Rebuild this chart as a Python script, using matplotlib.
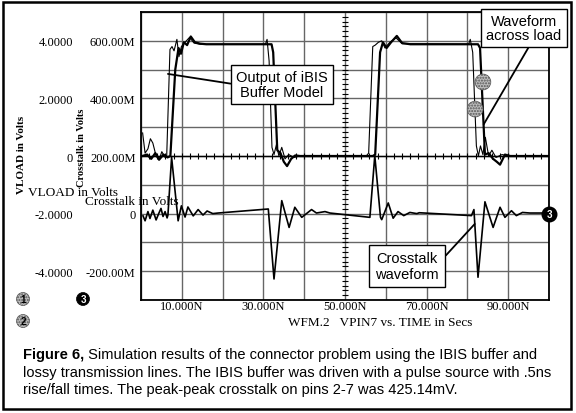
import numpy as np
import matplotlib
matplotlib.use("Agg")
import matplotlib.pyplot as plt
from matplotlib.patches import Rectangle, Circle

# waveforms: time in ns, load/buffer in volts, crosstalk in mV
buf_t = [0.4, 1.0, 1.7, 2.3, 2.9, 3.7, 4.4, 5.1, 5.9, 6.3, 7.1, 7.6, 8.1, 8.8, 9.3, 9.9,
         10.8, 11.9, 13.0, 14.5, 30.5, 30.9, 31.4, 32.1, 32.6, 33.2, 33.8, 34.5, 35.3,
         36.2, 37.5, 39.0, 55.2, 55.8, 56.8, 57.4, 58.2, 59.0, 59.8, 61.0, 62.5, 64.0,
         80.3, 80.7, 81.3, 82.2, 82.7, 83.2, 83.8, 84.4, 85.2, 86.0, 87.0, 88.5, 90.0, 100.0]
buf_v = [0.8, 0.1, 0.25, 0.6, 0.45, 0.0, -0.15, 0.15, -0.05, 0.0, 3.7, 3.8, 3.65, 4.05, 3.45, 3.8,
         3.95, 4.12, 3.92, 3.88, 3.88, 4.05, 3.3, 0.3, 0.05, 0.4, 0.0, 0.3, -0.1,
         0.05, -0.05, 0.0, 0.0, 0.1, 3.8, 3.85, 3.95, 4.0, 3.75, 3.95, 4.1, 3.9,
         3.88, 4.05, 3.6, 0.35, 0.0, 0.35, 0.05, 0.65, 0.0, 0.2, -0.05, 0.05, 0.0, 0.0]

load_t = [0.3, 1.5, 2.5, 3.5, 4.5, 5.5, 6.5, 7.2, 8.4, 9.2, 9.8, 10.5, 11.3, 12.2, 13.2, 14.5,
          16.0, 32.0, 32.4, 33.4, 34.2, 35.0, 35.8, 36.8, 37.8, 39.0, 56.8, 57.4, 58.6, 59.3,
          60.2, 61.3, 62.7, 64.0, 66.0, 82.6, 83.1, 84.3, 85.2, 86.3, 87.2, 88.0, 89.2, 90.5, 100.0]
load_v = [0.0, 0.05, -0.1, 0.1, -0.12, 0.05, -0.05, 0.0, 3.0, 3.75, 3.55, 3.95, 3.85, 4.15, 3.95, 3.9,
          3.88, 3.88, 3.6, 0.2, 0.1, -0.2, -0.35, -0.1, 0.02, 0.0, 0.0, 0.05, 3.6, 3.95,
          3.75, 3.95, 4.17, 3.92, 3.88, 3.88, 3.75, 0.05, 0.1, -0.1, -0.2, -0.3, 0.05, 0.0, 0.0]

xt_t = [0.5, 1.0, 1.7, 2.2, 2.9, 3.7, 4.4, 4.9, 5.4, 5.9, 6.4, 6.6, 7.5, 9.1, 9.9, 10.8, 11.5,
        12.8, 14.0, 15.2, 16.2, 17.6, 18.9, 31.2, 32.6, 34.5, 36.3, 37.7, 39.4, 41.8, 43.0,
        45.1, 46.3, 56.1, 57.3, 58.7, 59.0, 60.6, 61.8, 63.0, 64.4, 65.9, 67.6, 68.2,
        81.0, 81.6, 82.6, 84.3, 86.3, 88.0, 89.2, 90.8, 92.0, 93.5, 95.3, 100.0]
xt_mv = [-8, -25, 7, -17, 12, -22, 2, 18, -10, 7, -15, -5, 195, -25, 27, -12, 23,
         -8, 14, -5, 9, 0, 2, 16, -227, 45, -48, 22, -13, 14, 2,
         7, 2, -13, 201, -13, -21, 37, -16, 7, -7, 4, 0, 3,
         -7, 14, -221, 41, -48, 22, -13, 10, -7, 4, 2, 2]

xtick_pos = [10, 30, 50, 70, 90]
xtick_lab = ["10.000N", "30.000N", "50.000N", "70.000N", "90.000N"]
mv_ticks = [600, 400, 200, 0, -200]
mv_lab = ["600.00M", "400.00M", "200.00M", "0", "-200.00M"]
v_ticks = [4, 2, 0, -2, -4]
v_lab = ["4.0000", "2.0000", "0", "-2.0000", "-4.0000"]

caption = ["Simulation results of the connector problem using the IBIS buffer and",
           "lossy transmission lines. The IBIS buffer was driven with a pulse source with .5ns",
           "rise/fall times. The peak-peak crosstalk on pins 2-7 was 425.14mV."]

W, H = 576, 414
serif = ["Liberation Serif", "DejaVu Serif"]
sans = ["Liberation Sans", "DejaVu Sans"]

fig = plt.figure(figsize=(W / 100, H / 100), dpi=100)
ax = fig.add_axes([141 / W, 1 - 301 / H, 408 / W, 288 / H])
ax.set_xlim(0, 100)
ax.set_ylim(-300, 700)

# grid
ax.set_xticks(xtick_pos)
ax.set_xticklabels(xtick_lab, family=serif, fontsize=9)
ax.set_xticks(np.arange(0, 101, 10), minor=True)
ax.set_yticks(mv_ticks)
ax.set_yticklabels(mv_lab, family=serif, fontsize=9)
ax.set_yticks(np.arange(-300, 701, 100), minor=True)
ax.grid(True, which="both", color="#666666", lw=1.0)
ax.set_axisbelow(True)
ax.tick_params(which="both", length=0)
ax.tick_params(axis="x", pad=0)
ax.tick_params(axis="y", pad=4)
for s in ax.spines.values():
    s.set_linewidth(1.3)

# small tick crosses on the centre axes
ax.axhline(200, color="black", lw=1.0, zorder=1.5)
ax.plot(np.arange(2, 100, 2), np.full(49, 200), ls="none", marker="|", ms=4, mew=0.8, color="black")
ax.plot(np.full(59, 50), np.linspace(-300, 700, 61)[1:-1], ls="none", marker="_", ms=4, mew=0.8, color="black")

ax.plot(xt_t, xt_mv, color="black", lw=1.2, zorder=3)

ax2 = ax.twinx()
ax2.set_ylim(-5, 5)
ax2.yaxis.tick_left()
ax2.set_yticks(v_ticks)
ax2.set_yticklabels(v_lab, family=serif, fontsize=9)
ax2.tick_params(axis="y", length=0, pad=49, left=True, right=False, labelleft=True, labelright=False)
for s in ax2.spines.values():
    s.set_visible(False)

ax2.plot(buf_t, buf_v, color="black", lw=0.8)
ax2.plot(load_t, load_v, color="black", lw=1.6)

# probe markers
ax2.scatter([83.8, 81.9], [2.57, 1.63], s=130, facecolor="#bdbdbd", edgecolor="#555555",
            hatch="......", lw=0.5, zorder=5)
ax.scatter([100], [0], s=110, color="black", clip_on=False, zorder=6)
ax.text(100, 0, "3", color="white", fontsize=7, fontweight="bold", ha="center", va="center",
        family=sans, zorder=7)

box = dict(boxstyle="square,pad=0.35", fc="white", ec="black", lw=1.0)
ap = dict(arrowstyle="-", color="black", lw=1.3, shrinkA=0, shrinkB=0)
ax2.annotate("Output of iBIS\nBuffer Model", xy=(6.6, 2.85), xytext=(282, H - 85.5),
             textcoords="figure pixels", ha="center", va="center", fontsize=10.5,
             family=sans, linespacing=1.05, bbox=box, arrowprops=dict(ap, relpos=(0, 0.5)))
ax2.annotate("Waveform\nacross load", xy=(84.0, 1.1), xytext=(524, H - 29),
             textcoords="figure pixels", ha="center", va="center", fontsize=10.5,
             family=sans, linespacing=1.05, bbox=box, arrowprops=dict(ap, relpos=(0.6, 0)),
             annotation_clip=False)
ax.annotate("Crosstalk\nwaveform", xy=(81.8, -36), xytext=(407, H - 267),
            textcoords="figure pixels", ha="center", va="center", fontsize=10.5,
            family=sans, linespacing=1.1, bbox=dict(box, boxstyle="square,pad=0.45"),
            arrowprops=dict(ap, relpos=(1, 0.6)))

# axis titles of the scope printout
fig.text(22 / W, 1 - 155 / H, "VLOAD in Volts", rotation=90, ha="center", va="center",
         family=serif, fontsize=8, fontweight="bold")
fig.text(82 / W, 1 - 148 / H, "Crosstalk in Volts", rotation=90, ha="center", va="center",
         family=serif, fontsize=7.5, fontweight="bold")
fig.text(28 / W, 1 - 193 / H, "VLOAD in Volts", ha="left", va="center", family=serif, fontsize=9.5)
fig.text(85 / W, 1 - 202 / H, "Crosstalk in Volts", ha="left", va="center", family=serif, fontsize=9.5)
fig.text(380 / W, 1 - 323 / H, "WFM.2   VPIN7 vs. TIME in Secs", ha="center", va="center",
         family=serif, fontsize=9.5)

# legend style probe numbers on the left
for (px, py, num, fc, tc) in [(23, 300, "1", "#bdbdbd", "black"), (23, 322, "2", "#bdbdbd", "black"),
                              (83, 300, "3", "black", "white")]:
    c = Circle((px / 100, (H - py) / 100), 0.065, transform=fig.dpi_scale_trans,
               fc=fc, ec="#555555" if fc != "black" else "black", lw=0.5,
               hatch="......" if fc != "black" else None)
    fig.add_artist(c)
    fig.text(px / W, 1 - py / H, num, ha="center", va="center", fontsize=7,
             fontweight="bold", color=tc, family=sans)

# caption
cap_fs = 10.5
t1 = fig.text(23 / W, 1 - 355 / H, "Figure 6,", ha="left", va="center", fontsize=cap_fs,
              fontweight="bold", family=sans)
ax.annotate(" " + caption[0], xy=(1, 0.5), xycoords=t1, ha="left", va="center",
            fontsize=cap_fs, family=sans)
fig.text(23 / W, 1 - 373 / H, caption[1], ha="left", va="center", fontsize=cap_fs, family=sans)
fig.text(23 / W, 1 - 390 / H, caption[2], ha="left", va="center", fontsize=cap_fs, family=sans)

# outer frame
fig.add_artist(Rectangle((3 / W, 1 - 410 / H), 568 / W, 407 / H, transform=fig.transFigure,
                         fill=False, ec="black", lw=1.8))

fig.savefig("out.png", dpi=100)
